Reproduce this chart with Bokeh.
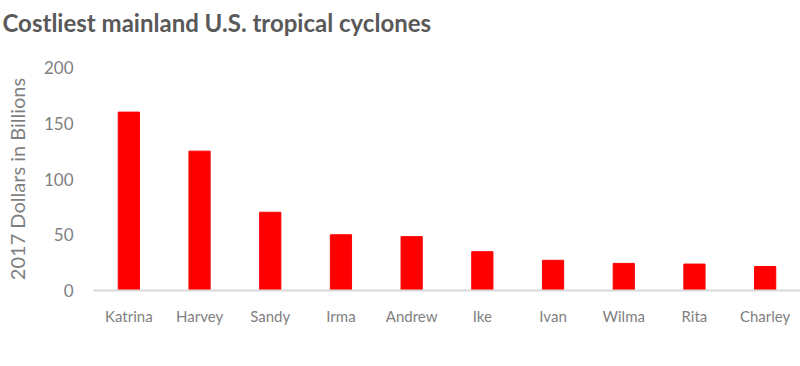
from bokeh.plotting import figure
from bokeh.models import ColumnDataSource, Range1d, FixedTicker, Title
from bokeh.embed import file_html
from bokeh.resources import INLINE

title_text = "Costliest mainland U.S. tropical cyclones"
storms = ["Katrina", "Harvey", "Sandy", "Irma", "Andrew", "Ike", "Ivan", "Wilma", "Rita", "Charley"]
cost_billions = [160, 125, 70.2, 50, 48.3, 34.8, 27.1, 24.3, 23.7, 21.5]
y_ticks = [0, 50, 100, 150, 200]

src = ColumnDataSource(data=dict(storm=storms, cost=cost_billions))

p = figure(x_range=storms, y_range=Range1d(0, 200), width=800, height=366,
           output_backend="svg", toolbar_location=None,
           min_border_left=93, min_border_right=0, min_border_top=67, min_border_bottom=76)

p.vbar(x="storm", top="cost", width=0.3, source=src, color="#ff0000", line_color="#ff0000")

# spacer (nearest the frame), then the real title above it
p.add_layout(Title(text=" ", text_font="Lato", text_font_size="24px", standoff=0), "above")
p.add_layout(Title(text=title_text, text_font="Lato", text_font_style="bold",
                   text_font_size="24px", text_color="#595959", align="left",
                   offset=-91, standoff=0), "above")

p.xgrid.visible = False
p.ygrid.visible = False
p.outline_line_color = None

p.xaxis.axis_line_color = "#d9d9d9"
p.xaxis.axis_line_width = 2
p.xaxis.major_tick_line_color = None
p.xaxis.minor_tick_line_color = None
p.xaxis.major_tick_out = 0
p.xaxis.major_label_standoff = 16
p.xaxis.major_label_text_font = "Lato"
p.xaxis.major_label_text_font_size = "15px"
p.xaxis.major_label_text_color = "#7f7f7f"

p.yaxis.ticker = FixedTicker(ticks=y_ticks)
p.yaxis.axis_line_color = None
p.yaxis.major_tick_line_color = None
p.yaxis.minor_tick_line_color = None
p.yaxis.major_tick_out = 0
p.yaxis.major_label_standoff = 20
p.yaxis.major_label_text_font = "Lato"
p.yaxis.major_label_text_font_size = "17px"
p.yaxis.major_label_text_color = "#7f7f7f"
p.yaxis.axis_label = "2017 Dollars in Billions"
p.yaxis.axis_label_text_font = "Lato"
p.yaxis.axis_label_text_font_style = "normal"
p.yaxis.axis_label_text_font_size = "20px"
p.yaxis.axis_label_text_color = "#7f7f7f"
p.yaxis.axis_label_standoff = 12

open("out.html", "w").write(file_html(p, INLINE))
